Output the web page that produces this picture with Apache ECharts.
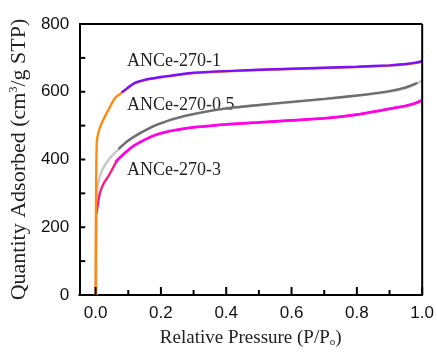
<!DOCTYPE html>
<html>
<head>
<meta charset="utf-8">
<script src="https://cdn.jsdelivr.net/npm/echarts@6/dist/echarts.min.js"></script>
<style>
  html, body { margin: 0; padding: 0; background: #fff; }
  #main { width: 437px; height: 353px; }
  #err { position: absolute; left: 0; top: 0; width: 437px; font: 10px monospace; color: red; }
</style>
</head>
<body>
<div id="main"></div>
<div id="err"></div>
<script>
window.onerror = function (msg, src, line) {
  document.getElementById('err').textContent += msg + ' @' + line + ' | ';
};

// ANCe-270-1 (adsorption orange, desorption purple)
var pAds1 = [0, 0.001, 0.002, 0.004, 0.01, 0.02, 0.04, 0.06, 0.08, 0.1, 0.12, 0.15, 0.19, 0.25, 0.3, 0.4, 0.5, 0.6, 0.7, 0.8, 0.9, 0.95, 0.98, 1.0];
var ads1  = [0, 200, 360, 455, 485, 510, 548, 582, 597, 612, 625, 634, 641, 649, 655, 660, 664, 667, 670, 673, 677, 681, 685, 690];
var pDes1 = [0.08, 0.1, 0.12, 0.15, 0.19, 0.25, 0.3, 0.4, 0.5, 0.6, 0.7, 0.8, 0.9, 0.95, 0.98, 1.0];
var des1  = [598, 613, 626, 635, 642, 650, 656, 661, 665, 668, 671, 674, 678, 682, 686, 690];

// ANCe-270-0.5 (light grey / dark grey)
var pAds2 = [0, 0.001, 0.002, 0.004, 0.008, 0.02, 0.04, 0.07, 0.1, 0.14, 0.19, 0.27, 0.4, 0.5, 0.6, 0.7, 0.8, 0.9, 0.95, 0.98, 1.0];
var ads2  = [0, 150, 280, 300, 332, 368, 400, 430, 455, 479, 503, 527, 550, 560, 569, 578, 588, 600, 610, 622, 634];
var pDes2 = [0.07, 0.1, 0.14, 0.19, 0.27, 0.4, 0.5, 0.6, 0.7, 0.8, 0.9, 0.95, 0.985];
var des2  = [431, 456, 480, 504, 528, 551, 561, 570, 579, 589, 602, 613, 626];

// ANCe-270-3 (pink / magenta), pale start at P ~ 0
var pLow3 = [0.003, 0.003];
var low3  = [0, 240];
var pAds3 = [0.003, 0.006, 0.013, 0.025, 0.04, 0.068, 0.09, 0.12, 0.19, 0.28, 0.4, 0.5, 0.6, 0.7, 0.8, 0.9, 0.95, 0.98, 1.0];
var ads3  = [240, 262, 300, 330, 352, 400, 419, 442, 474, 492, 503, 509, 515, 521, 532, 549, 558, 566, 574];
var pDes3 = [0.06, 0.09, 0.12, 0.19, 0.28, 0.4, 0.5, 0.6, 0.7, 0.8, 0.9, 0.95, 0.98, 1.0];
var des3  = [392, 420, 443, 475, 493, 504, 510, 516, 522, 533, 550, 559, 567, 575];

var sampleNames = ['ANCe-270-1', 'ANCe-270-0.5', 'ANCe-270-3'];
var xMajorTicks = [0, 0.2, 0.4, 0.6, 0.8, 1.0];
var xMinorTicks = [0.1, 0.3, 0.5, 0.7, 0.9];
var yTicks = [100, 200, 300, 400, 500, 600, 700];

var X_MIN = -0.05, X_MAX = 1.0, Y_MIN = 0, Y_MAX = 800;
var GRID = { left: 74, top: 24, right: 14, bottom: 57 };

function pairs(xs, ys) {
  return xs.map(function (x, i) { return [x, ys[i]]; });
}

function line(name, xs, ys, color, smooth) {
  return {
    name: name,
    type: 'line',
    data: pairs(xs, ys),
    showSymbol: false,
    smooth: smooth,
    lineStyle: { color: color, width: 2.4 },
    itemStyle: { color: color },
    animation: false
  };
}

var myChart = echarts.init(document.getElementById('main'));
var serif = '"Liberation Serif", "Times New Roman", serif';
var sans = '"Liberation Sans", Arial, sans-serif';

try {
  myChart.setOption({
    animation: false,
    backgroundColor: '#fff',
    grid: GRID,
    xAxis: {
      type: 'value', min: X_MIN, max: X_MAX,
      axisLine: { onZero: false, lineStyle: { color: '#000', width: 2 } },
      axisTick: { show: false },
      axisLabel: {
        customValues: xMajorTicks, margin: 10, color: '#111', fontSize: 17, fontFamily: sans,
        formatter: function (v) { return v.toFixed(1); }
      },
      splitLine: { show: false },
      name: 'Relative Pressure (P/P{sub|o})',
      nameLocation: 'middle', nameGap: 34,
      nameTextStyle: {
        fontFamily: serif, fontSize: 19, color: '#222',
        rich: { sub: { fontFamily: serif, fontSize: 11, color: '#222', verticalAlign: 'bottom' } }
      }
    },
    yAxis: {
      type: 'value', min: Y_MIN, max: Y_MAX, interval: 100,
      axisLine: { show: true, onZero: false, lineStyle: { color: '#000', width: 2 } },
      axisTick: { show: false },
      axisLabel: {
        margin: 10, color: '#111', fontSize: 17, fontFamily: sans,
        formatter: function (v) { return v % 200 === 0 ? String(v) : ''; }
      },
      splitLine: { show: false },
      name: 'Quantity Adsorbed (cm{sup|3}/g STP)',
      nameLocation: 'middle', nameGap: 41,
      nameTextStyle: {
        fontFamily: serif, fontSize: 22, color: '#222',
        rich: { sup: { fontFamily: serif, fontSize: 12, color: '#222', verticalAlign: 'top' } }
      }
    },
    series: [
      line(sampleNames[2] + ' low', pLow3, low3, '#f2c4d0', false),
      line(sampleNames[1] + ' ads', pAds2, ads2, '#c8c8c8', 0.2),
      line(sampleNames[1] + ' des', pDes2, des2, '#6e6e6e', 0.2),
      line(sampleNames[2] + ' ads', pAds3, ads3, '#ff1a80', 0.2),
      line(sampleNames[2] + ' des', pDes3, des3, '#ff00f0', 0.2),
      line(sampleNames[0] + ' ads', pAds1, ads1, '#ff8a10', 0.2),
      line(sampleNames[0] + ' des', pDes1, des1, '#7a10ff', 0.2)
    ]
  });
} catch (e) {
  document.getElementById('err').textContent += 'setOption: ' + e.message + ' | ';
}

// frame and inward ticks, positioned through the chart's own scales
function toPx(x, y) {
  var p = myChart.convertToPixel({ gridIndex: 0 }, [x, y]);
  if (!p || !isFinite(p[0]) || !isFinite(p[1])) {
    var w = 437 - GRID.left - GRID.right, h = 353 - GRID.top - GRID.bottom;
    p = [GRID.left + (x - X_MIN) / (X_MAX - X_MIN) * w, GRID.top + h - (y - Y_MIN) / (Y_MAX - Y_MIN) * h];
  }
  return p;
}

var lo = toPx(X_MIN, Y_MIN), hi = toPx(X_MAX, Y_MAX);
var graphics = [];
function seg(x1, y1, x2, y2) {
  graphics.push({ type: 'line', shape: { x1: x1, y1: y1, x2: x2, y2: y2 }, style: { stroke: '#000', lineWidth: 2 }, silent: true, z: 100 });
}
// top and right edges of the frame
seg(lo[0], hi[1], hi[0], hi[1]);
seg(hi[0], hi[1], hi[0], lo[1]);
xMajorTicks.forEach(function (v) { var p = toPx(v, Y_MIN); seg(p[0], p[1], p[0], p[1] - 8); });
xMinorTicks.forEach(function (v) { var p = toPx(v, Y_MIN); seg(p[0], p[1], p[0], p[1] - 5); });
yTicks.forEach(function (v) { var p = toPx(X_MIN, v); seg(p[0], p[1], p[0] + 6, p[1]); });
graphics.push(
  { type: 'text', left: 127, top: 52, style: { text: sampleNames[0], font: '18px ' + serif, fill: '#222' } },
  { type: 'text', left: 127, top: 96, style: { text: sampleNames[1], font: '18px ' + serif, fill: '#222' } },
  { type: 'text', left: 127, top: 161, style: { text: sampleNames[2], font: '18px ' + serif, fill: '#222' } }
);

try {
  myChart.setOption({ graphic: graphics });
} catch (e) {
  document.getElementById('err').textContent += 'graphic: ' + e.message + ' | ';
}
</script>
</body>
</html>
